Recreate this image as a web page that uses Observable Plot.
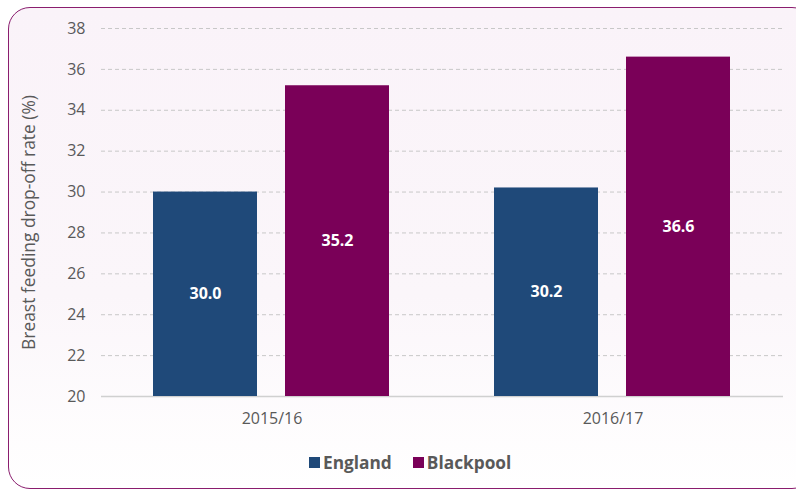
<!DOCTYPE html>
<html>
<head>
<meta charset="utf-8">
<script src="https://cdn.jsdelivr.net/npm/d3@7"></script>
<script src="https://cdn.jsdelivr.net/npm/@observablehq/plot@0.6"></script>
<style>
  html, body { margin: 0; padding: 0; background: #ffffff; }
  #wrap { position: relative; width: 796px; height: 490px; overflow: hidden; font-family: "Open Sans", sans-serif; }
  #frame { position: absolute; left: 8px; top: 7px; width: 806px; height: 482px; border: 1.5px solid #8a1d6e; border-radius: 22px;
           background: linear-gradient(to bottom, #faf3f9 0%, #fbf6fa 60%, #ffffff 100%); box-sizing: border-box; }
  #chart { position: absolute; left: 0; top: 0; }
  #legend { position: absolute; left: 309px; top: 451px; display: flex; gap: 21px; font-weight: 700; font-size: 17.3px; color: #595959; }
  .item { display: flex; align-items: center; gap: 3px; }
  .sw { width: 11px; height: 11px; display: inline-block; }
</style>
</head>
<body>
<div id="wrap">
  <div id="frame"></div>
  <div id="chart"></div>
  <div id="legend"></div>
</div>
<script>
const years = ["2015/16", "2016/17"];
const seriesNames = ["England", "Blackpool"];
const england = [30.0, 30.2];
const blackpool = [35.2, 36.6];
const colors = ["#1f4979", "#7a0058"];
const yTicks = [20, 22, 24, 26, 28, 30, 32, 34, 36, 38];
const yTitle = "Breast feeding drop-off rate (%)";

const data = [];
years.forEach((yr, i) => {
  data.push({year: yr, series: seriesNames[0], value: england[i]});
  data.push({year: yr, series: seriesNames[1], value: blackpool[i]});
});

const chart = Plot.plot({
  width: 796,
  height: 445,
  marginLeft: 100,
  marginRight: 13,
  marginTop: 28,
  marginBottom: 49,
  style: {background: "transparent", fontFamily: "Open Sans, sans-serif", color: "#595959", overflow: "visible"},
  fx: {domain: years, padding: 0, label: null},
  x: {domain: seriesNames, paddingInner: 0.21, paddingOuter: 0.39, axis: null},
  y: {domain: [20, 38]},
  color: {domain: seriesNames, range: colors},
  marks: [
    Plot.ruleY(yTicks.filter(t => t > 20), {stroke: "#c8c8c8", strokeDasharray: "4,3", strokeWidth: 1, facet: "exclude"}),
    Plot.ruleY([20], {stroke: "#d0d0d0", strokeWidth: 1.5}),
    Plot.axisY({ticks: yTicks, tickSize: 0, tickPadding: 16, fontSize: 16, label: null}),
    Plot.axisFx({anchor: "bottom", tickSize: 0, tickPadding: 16, fontSize: 16, label: null}),
    Plot.text([yTitle], {fx: () => years[0], frameAnchor: "left", dx: -72, dy: 10, rotate: -90, text: d => d, fontSize: 17.4, fill: "#595959", textAnchor: "middle"}),
    Plot.barY(data, {fx: "year", x: "series", y1: 20, y2: "value", fill: "series"}),
    Plot.text(data, {fx: "year", x: "series", y: d => (20 + d.value) / 2, text: d => d.value.toFixed(1), fill: "white", fontWeight: "bold", fontSize: 16})
  ]
});
document.getElementById("chart").appendChild(chart);

const legend = document.getElementById("legend");
seriesNames.forEach((n, i) => {
  const it = document.createElement("div");
  it.className = "item";
  const sw = document.createElement("span");
  sw.className = "sw";
  sw.style.background = colors[i];
  const t = document.createElement("span");
  t.textContent = n;
  it.appendChild(sw); it.appendChild(t);
  legend.appendChild(it);
});
</script>
</body>
</html>
